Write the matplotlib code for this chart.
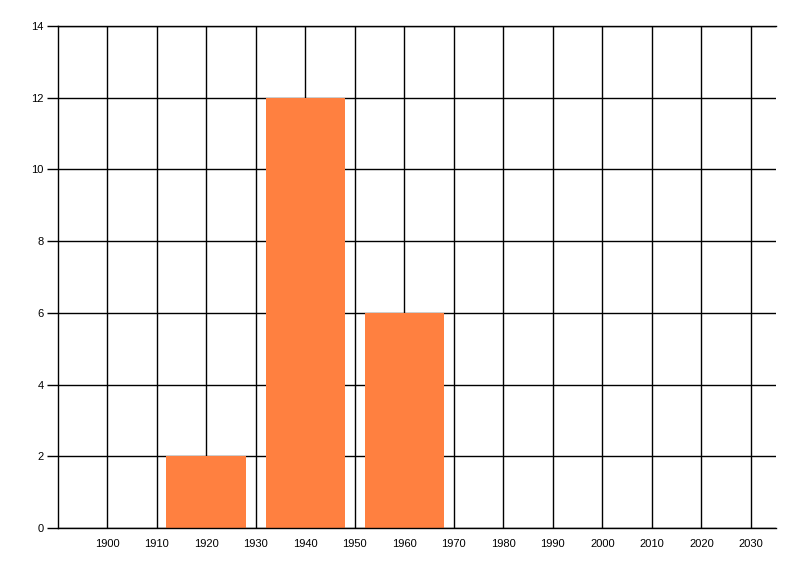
import matplotlib
matplotlib.use('Agg')
import matplotlib.pyplot as plt

# decade bins and counts
decades = [1920, 1940, 1960]
counts = [2, 12, 6]
x_ticks = list(range(1900, 2031, 10))
y_ticks = list(range(0, 15, 2))

plt.rcParams['font.family'] = ['Liberation Sans', 'DejaVu Sans']

fig = plt.figure(figsize=(8, 5.76), dpi=100)
ax = fig.add_axes([0.0719, 0.0833, 0.8977, 0.8716])

ax.bar(decades, counts, width=16, color='#ff8040', zorder=2)

ax.set_xlim(1890, 2035)
ax.set_ylim(0, 14)
ax.set_xticks(x_ticks)
ax.set_yticks(y_ticks)
ax.tick_params(axis='x', length=0, pad=8, labelsize=8)
ax.tick_params(axis='y', length=8, width=1, pad=2, labelsize=8)

ax.grid(True, color='black', linewidth=1)
ax.set_axisbelow(True)

# no right border, gridline at 14 acts as top
ax.spines['right'].set_visible(False)
for s in ['left', 'bottom', 'top']:
    ax.spines[s].set_linewidth(1)

fig.savefig('out.png', dpi=100)
